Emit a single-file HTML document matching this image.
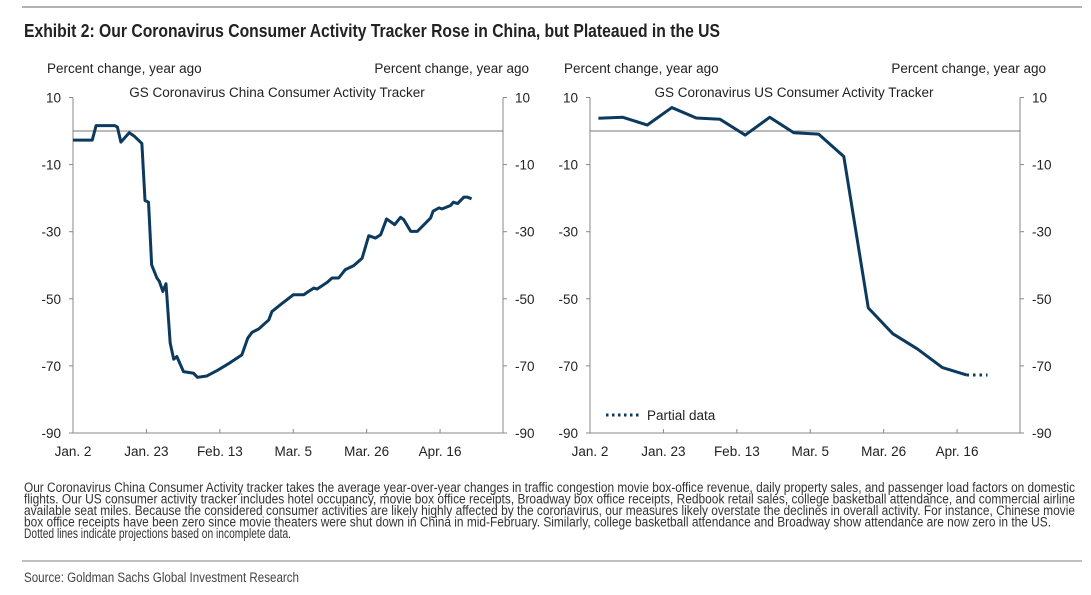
<!DOCTYPE html>
<html><head><meta charset="utf-8"><style>
html,body{margin:0;padding:0;background:#fff}
svg{display:block;font-family:"Liberation Sans",Arial,sans-serif}
</style></head><body>
<svg id="s" width="1091" height="595" viewBox="0 0 1091 595" xmlns="http://www.w3.org/2000/svg">
<line x1="22" y1="7" x2="1082" y2="7" stroke="#999" stroke-width="1.5"/>
<text x="24" y="37" font-size="18" font-weight="bold" fill="#222" textLength="696" lengthAdjust="spacingAndGlyphs">Exhibit 2: Our Coronavirus Consumer Activity Tracker Rose in China, but Plateaued in the US</text>
<g id="left"></g>
<g id="right"></g>
<g font-size="13.5" fill="#333">
<text x="24" y="492" textLength="1051" lengthAdjust="spacingAndGlyphs">Our Coronavirus China Consumer Activity tracker takes the average year-over-year changes in traffic congestion movie box-office revenue, daily property sales, and passenger load factors on domestic</text>
<text x="24" y="503.5" textLength="1051" lengthAdjust="spacingAndGlyphs">flights. Our US consumer activity tracker includes hotel occupancy, movie box office receipts, Broadway box office receipts, Redbook retail sales, college basketball attendance, and commercial airline</text>
<text x="24" y="515" textLength="1051" lengthAdjust="spacingAndGlyphs">available seat miles. Because the considered consumer activities are likely highly affected by the coronavirus, our measures likely overstate the declines in overall activity. For instance, Chinese movie</text>
<text x="24" y="526.5" textLength="1027" lengthAdjust="spacingAndGlyphs">box office receipts have been zero since movie theaters were shut down in China in mid-February. Similarly, college basketball attendance and Broadway show attendance are now zero in the US.</text>
<text x="24" y="538" textLength="267" lengthAdjust="spacingAndGlyphs">Dotted lines indicate projections based on incomplete data.</text>
</g>
<line x1="22" y1="561" x2="1082" y2="561" stroke="#aaa" stroke-width="1.5"/>
<text x="24" y="582" font-size="13.5" fill="#444" textLength="275" lengthAdjust="spacingAndGlyphs">Source: Goldman Sachs Global Investment Research</text>
</svg>
<script>
// China daily tracker: day index since Jan 2, value
const chinaDays=[0,5.5,6.6,12,12.7,13.7,16.1,17.5,19.7,20.6,21.6,22.5,24,24.7,25.7,26.6,27.8,28.8,29.7,31.6,34.5,35.6,38.3,41.2,45,48.3,50,51.2,53.1,56,56.9,59.3,63,66,67.4,68.9,69.8,72.7,74.1,76,77.9,80.3,82.7,84.6,86.5,88,89.7,92,93.7,94.6,96.6,98.5,100.4,102.3,103,104.7,105.6,108,108.8,110,111.8,112.8,114];
const chinaVals=[-2.7,-2.7,1.6,1.6,1.2,-3.3,-0.5,-1.5,-3.7,-20.7,-21.2,-39.9,-43.8,-44.8,-47.8,-45.5,-63.2,-68,-67.2,-71.7,-72.2,-73.4,-73,-71.4,-69,-66.7,-61.7,-60,-59,-56.3,-53.8,-51.8,-48.8,-48.8,-47.8,-46.8,-47.1,-45.1,-43.8,-43.8,-41.3,-40.1,-37.9,-31.2,-31.9,-30.9,-26.2,-27.9,-25.7,-26.4,-29.9,-29.9,-27.9,-25.9,-23.9,-22.9,-23.2,-22.2,-21.2,-21.6,-19.7,-19.7,-20.2];
// US weekly tracker
const usDays=[2.4,9.4,16.4,23.4,30.4,37.2,44.4,51.4,58.3,65.4,72.6,79.6,86.6,93.6,100.8,107.7];
const usVals=[3.8,4.1,1.8,7.0,3.9,3.5,-1.2,4.1,-0.5,-0.9,-7.6,-52.7,-60.4,-64.9,-70.5,-72.7];
const usPartialDays=[107.7,113.7];
const usPartialVals=[-72.7,-72.7];
const yTicks=[10,-10,-30,-50,-70,-90];
const xTickDays=[0,21,42,63,84,105];
const xTickLabels=["Jan. 2","Jan. 23","Feb. 13","Mar. 5","Mar. 26","Apr. 16"];
const NS="http://www.w3.org/2000/svg";
function mk(p,t,a,txt){const e=document.createElementNS(NS,t);for(const k in a)e.setAttribute(k,a[k]);if(txt!==undefined)e.textContent=txt;p.appendChild(e);return e;}
function chart(g,L,R,title){
  const top=97.5,bot=433,x=d=>L+d*(R-L)/123,y=v=>top+(10-v)*(bot-top)/100;
  const grey="#888";
  let e;
  e=mk(g,"text",{x:L-26,y:73,"font-size":13.5,fill:"#222"},"Percent change, year ago");
  
  
  e=mk(g,"text",{x:R+26,y:73,"font-size":13.5,fill:"#222","text-anchor":"end"},"Percent change, year ago");
  
  
  e=mk(g,"text",{x:(L+R)/2-11,y:97,"font-size":13.5,fill:"#222","text-anchor":"middle"},title);
  
  
  mk(g,"line",{x1:L,y1:top,x2:L,y2:bot,stroke:grey});
  mk(g,"line",{x1:R,y1:top,x2:R,y2:bot,stroke:grey});
  mk(g,"line",{x1:L,y1:bot,x2:R,y2:bot,stroke:grey});
  e=mk(g,"line",{x1:L,y1:y(0),x2:R,y2:y(0),stroke:"#777","stroke-width":1});
  
  
  yTicks.forEach(v=>{
    mk(g,"line",{x1:L-4,y1:y(v),x2:L,y2:y(v),stroke:grey});
    mk(g,"line",{x1:R,y1:y(v),x2:R+4,y2:y(v),stroke:grey});
    e=mk(g,"text",{x:L-12,y:y(v)+5,"font-size":13.5,fill:"#222","text-anchor":"end"},String(v));
    
    
    e=mk(g,"text",{x:R+12,y:y(v)+5,"font-size":13.5,fill:"#222"},String(v));
    
    
  });
  xTickDays.forEach((d,i)=>{
    mk(g,"line",{x1:x(d),y1:bot,x2:x(d),y2:bot-4,stroke:grey});
    e=mk(g,"text",{x:x(d),y:456,"font-size":13.5,fill:"#222","text-anchor":"middle"},xTickLabels[i]);
    
    
  });
  return {x,y};
}
const lg=document.getElementById("left"),rg=document.getElementById("right");
const a=chart(lg,73,503,"GS Coronavirus China Consumer Activity Tracker");
let p=mk(lg,"polyline",{points:chinaDays.map((d,i)=>a.x(d)+","+a.y(chinaVals[i])).join(" "),fill:"none",stroke:"#0c3a5e","stroke-width":3,"stroke-linejoin":"round"});


const b=chart(rg,590,1020,"GS Coronavirus US Consumer Activity Tracker");
p=mk(rg,"polyline",{points:usDays.map((d,i)=>b.x(d)+","+b.y(usVals[i])).join(" "),fill:"none",stroke:"#0c3a5e","stroke-width":3,"stroke-linejoin":"round"});


p=mk(rg,"polyline",{points:usPartialDays.map((d,i)=>b.x(d)+","+b.y(usPartialVals[i])).join(" "),fill:"none",stroke:"#0c3a5e","stroke-width":3,"stroke-dasharray":"2.5 4"});


p=mk(rg,"line",{x1:606,y1:415,x2:642,y2:415,stroke:"#0c3a5e","stroke-width":3,"stroke-dasharray":"2.5 3.5"});


p=mk(rg,"text",{x:647,y:420,"font-size":13.5,fill:"#222"},"Partial data");


</script>
</body></html>
